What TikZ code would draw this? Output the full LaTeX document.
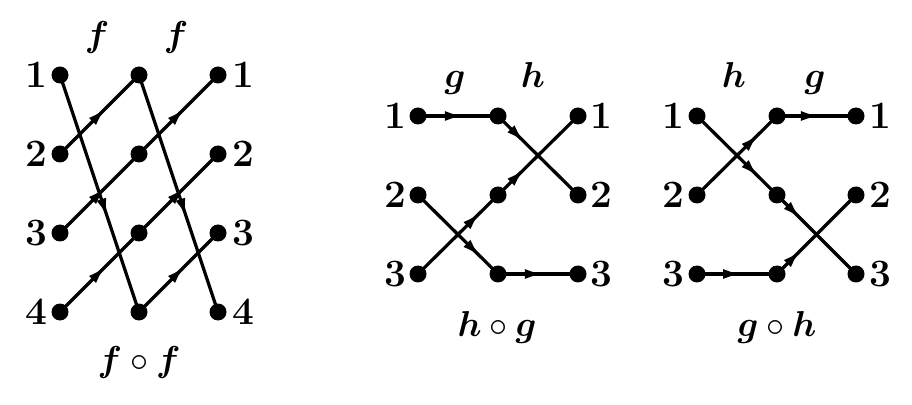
\documentclass[tikz,border=0pt]{standalone}
\usepackage{bm}
\usetikzlibrary{arrows.meta,decorations.markings}
\tikzset{
  dot/.style={circle, fill=black, draw=none, inner sep=0pt, minimum size=6.8pt},
  num/.style={font=\fontsize{15.5}{18}\selectfont\bfseries, inner sep=0pt},
  fn/.style={font=\fontsize{15}{18}\selectfont, inner sep=0pt, anchor=base},
  edge/.style={line width=1.3pt},
  arr/.style={postaction={decorate}, decoration={markings,
     mark=at position #1 with {\arrow{Latex[length=7.5pt,width=4pt]}}}},
}
\begin{document}
\begin{tikzpicture}[x=0.4pt,y=-0.4pt]
\useasboundingbox (0,0) rectangle (912,405);
% ---------- left diagram: f o f ----------
\foreach \c/\x in {0/60,1/139,2/218}
  \foreach \r/\y in {1/75,2/154,3/233,4/312}
    \node[dot] (L\c\r) at (\x,\y) {};
\foreach \r/\y in {1/75,2/154,3/233,4/312}{
  \node[num] (Ll\r) at (36,\y) {\r};
  \node[num] (Lr\r) at (243,\y) {\r};
}
\foreach \c/\d in {0/1,1/2}{
  \draw[edge,arr=0.6]  (L\c1.center) -- (L\d4.center);
  \draw[edge,arr=0.58] (L\c2.center) -- (L\d1.center);
  \draw[edge,arr=0.58] (L\c3.center) -- (L\d2.center);
  \draw[edge,arr=0.58] (L\c4.center) -- (L\d3.center);
}
\node[fn] (Lf1) at (97,47) {$\bm{f}$};
\node[fn] (Lf2) at (176,47) {$\bm{f}$};
\node[fn] (Lff) at (139,371) {$\bm{f}\circ\bm{f}$};
% ---------- middle diagram: h o g ----------
\foreach \c/\x in {0/418,1/498,2/578}
  \foreach \r/\y in {1/116,2/195,3/274}
    \node[dot] (M\c\r) at (\x,\y) {};
\foreach \r/\y in {1/116,2/195,3/274}{
  \node[num] (Ml\r) at (395,\y) {\r};
  \node[num] (Mr\r) at (601,\y) {\r};
}
\draw[edge,arr=0.57] (M01.center) -- (M11.center);
\draw[edge,arr=0.78] (M02.center) -- (M13.center);
\draw[edge,arr=0.78] (M03.center) -- (M12.center);
\draw[edge,arr=0.33] (M11.center) -- (M22.center);
\draw[edge,arr=0.33] (M12.center) -- (M21.center);
\draw[edge,arr=0.57] (M13.center) -- (M23.center);
\node[fn] (Mg) at (455,88) {$\bm{g}$};
\node[fn] (Mh) at (533,88) {$\bm{h}$};
\node[fn] (Mhg) at (497,336) {$\bm{h}\circ\bm{g}$};
% ---------- right diagram: g o h ----------
\foreach \c/\x in {0/697,1/777,2/856}
  \foreach \r/\y in {1/116,2/195,3/274}
    \node[dot] (R\c\r) at (\x,\y) {};
\foreach \r/\y in {1/116,2/195,3/274}{
  \node[num] (Rl\r) at (673,\y) {\r};
  \node[num] (Rr\r) at (880,\y) {\r};
}
\draw[edge,arr=0.77] (R01.center) -- (R12.center);
\draw[edge,arr=0.77] (R02.center) -- (R11.center);
\draw[edge,arr=0.56] (R03.center) -- (R13.center);
\draw[edge,arr=0.54] (R11.center) -- (R21.center);
\draw[edge,arr=0.3]  (R12.center) -- (R23.center);
\draw[edge,arr=0.3]  (R13.center) -- (R22.center);
\node[fn] (Rh) at (734,88) {$\bm{h}$};
\node[fn] (Rg) at (815,88) {$\bm{g}$};
\node[fn] (Rgh) at (777,336) {$\bm{g}\circ\bm{h}$};
\end{tikzpicture}
\end{document}
